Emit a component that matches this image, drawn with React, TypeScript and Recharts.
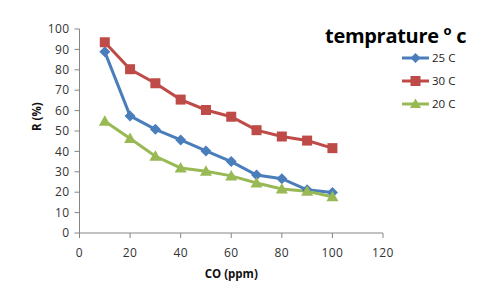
import { LineChart, Line, XAxis, YAxis } from "recharts";

const coPpm = [10, 20, 30, 40, 50, 60, 70, 80, 90, 100];
const r25 = [88.8, 57.4, 50.8, 45.6, 40.2, 35, 28.4, 26.6, 21.2, 19.8];
const r30 = [93.5, 80.3, 73.4, 65.4, 60.3, 57, 50.4, 47.3, 45.3, 41.6];
const r20 = [54.8, 46.3, 37.6, 31.9, 30.3, 28, 24.5, 21.6, 20.5, 17.8];
const xTicks = [0, 20, 40, 60, 80, 100, 120];
const yTicks = [0, 10, 20, 30, 40, 50, 60, 70, 80, 90, 100];

const data = coPpm.map((x, i) => ({ x, t25: r25[i], t30: r30[i], t20: r20[i] }));

const BLUE = "#4A7EBB";
const RED = "#BE4B48";
const GREEN = "#98B954";
const FONT = "'Open Sans', sans-serif";

function Diamond(p: any) {
  const { cx, cy } = p;
  if (cx == null || cy == null) return null;
  const s = 5.5;
  return <path key={p.key} d={`M${cx},${cy - s}L${cx + s},${cy}L${cx},${cy + s}L${cx - s},${cy}Z`} fill={BLUE} />;
}
function Square(p: any) {
  const { cx, cy } = p;
  if (cx == null || cy == null) return null;
  return <rect key={p.key} x={cx - 5} y={cy - 5} width={10} height={10} fill={RED} />;
}
function Triangle(p: any) {
  const { cx, cy } = p;
  if (cx == null || cy == null) return null;
  return <path key={p.key} d={`M${cx},${cy - 6}L${cx + 6},${cy + 4.5}L${cx - 6},${cy + 4.5}Z`} fill={GREEN} />;
}

const legendItems = [
  { name: "25 C", color: BLUE, shape: "d" },
  { name: "30 C", color: RED, shape: "s" },
  { name: "20 C", color: GREEN, shape: "t" },
];

function LegendBox() {
  return (
    <div style={{ position: "absolute", left: 402, top: 46, fontFamily: FONT }}>
      {legendItems.map((it) => (
        <div key={it.name} style={{ display: "flex", alignItems: "center", height: 23 }}>
          <svg width={27} height={12}>
            <line x1={0} y1={6} x2={27} y2={6} stroke={it.color} strokeWidth={3} />
            {it.shape === "d" && <path d="M13.5,1L18.5,6L13.5,11L8.5,6Z" fill={it.color} />}
            {it.shape === "s" && <rect x={8.5} y={1} width={10} height={10} fill={it.color} />}
            {it.shape === "t" && <path d="M13.5,0.5L19,10L8,10Z" fill={it.color} />}
          </svg>
          <span style={{ fontSize: 11.5, color: "#222", marginLeft: 3 }}>{it.name}</span>
        </div>
      ))}
    </div>
  );
}

export default function App() {
  const tickStyle = { fill: "#333", fontSize: 12, fontFamily: FONT, letterSpacing: 0.4 };
  return (
    <div style={{ position: "fixed", left: 0, top: 0, width: 481, height: 286, background: "#fff" }}>
      <div
        style={{
          position: "absolute",
          left: 325,
          top: 21,
          fontFamily: FONT,
          fontWeight: 700,
          fontSize: 20,
          color: "#000",
          letterSpacing: -0.3,
        }}
      >
        temprature <sup style={{ fontSize: 13 }}>o</sup> c
      </div>
      <LegendBox />
      <LineChart width={481} height={286} data={data} margin={{ top: 29, right: 98, bottom: 22, left: 0 }}>
        <XAxis
          dataKey="x"
          type="number"
          domain={[0, 120]}
          ticks={xTicks}
          height={31}
          stroke="#868686"
          tickSize={5}
          tick={tickStyle}
          tickMargin={10}
          label={{ value: "CO (ppm)", position: "insideBottom", offset: -14, fill: "#111", fontSize: 11.5, fontWeight: 700, fontFamily: FONT }}
        />
        <YAxis
          type="number"
          domain={[0, 100]}
          ticks={yTicks}
          width={79.5}
          stroke="#868686"
          tickSize={5}
          tick={tickStyle}
          tickMargin={5}
          label={{ value: "R (%)", angle: -90, position: "insideLeft", offset: 37, fill: "#111", fontSize: 11.5, fontWeight: 700, fontFamily: FONT }}
        />
        <Line dataKey="t25" name="25 C" stroke={BLUE} strokeWidth={3} dot={Diamond} isAnimationActive={false} />
        <Line dataKey="t30" name="30 C" stroke={RED} strokeWidth={3} dot={Square} isAnimationActive={false} />
        <Line dataKey="t20" name="20 C" stroke={GREEN} strokeWidth={3} dot={Triangle} isAnimationActive={false} />
      </LineChart>
    </div>
  );
}
